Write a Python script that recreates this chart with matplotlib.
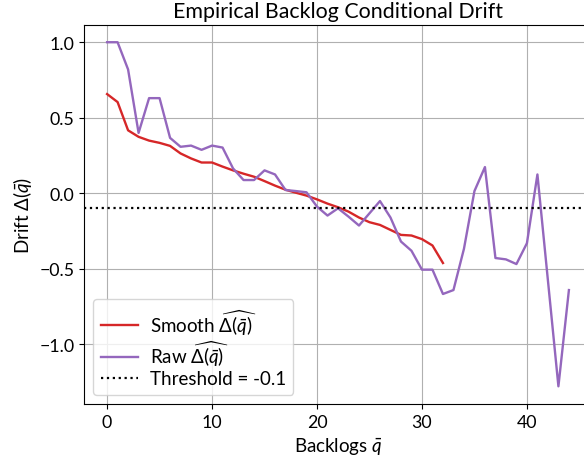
import matplotlib
matplotlib.use("Agg")
import matplotlib.pyplot as plt
import numpy as np

plt.rcParams['font.family'] = ['Lato', 'DejaVu Sans']
plt.rcParams['mathtext.fontset'] = 'custom'
plt.rcParams['mathtext.rm'] = 'Lato'
plt.rcParams['mathtext.it'] = 'Lato:italic'
plt.rcParams['mathtext.bf'] = 'Lato:bold'
plt.rcParams['font.size'] = 12.8

raw_x = list(range(45))
raw_y = [1.0, 1.0, 0.82, 0.40, 0.63, 0.63, 0.367, 0.308, 0.316, 0.288,
         0.316, 0.303, 0.165, 0.088, 0.088, 0.152, 0.125, 0.022, 0.015, 0.007,
         -0.088, -0.147, -0.099, -0.154, -0.213, -0.132, -0.051, -0.16, -0.319, -0.38,
         -0.505, -0.505, -0.666, -0.64, -0.367, 0.015, 0.174, -0.428, -0.437, -0.468,
         -0.33, 0.125, -0.576, -1.277, -0.64]

smooth_x = list(range(33))
smooth_y = [0.657, 0.604, 0.417, 0.374, 0.349, 0.334, 0.314, 0.264, 0.231, 0.204,
            0.204, 0.177, 0.152, 0.130, 0.110, 0.081, 0.051, 0.024, 0.004, -0.015,
            -0.040, -0.068, -0.092, -0.121, -0.16, -0.191, -0.209, -0.242, -0.275, -0.279,
            -0.303, -0.345, -0.461]

threshold = -0.1

fig = plt.figure(figsize=(5.84, 4.64), dpi=100)
ax = fig.add_axes([84/584, 1-405/464, 508/584, 379/464])

ax.plot(smooth_x, smooth_y, color='#d62728', lw=1.7, label=r'Smooth $\widehat{\Delta(\bar{q})}$')
ax.plot(raw_x, raw_y, color='#9467bd', lw=1.7, label=r'Raw $\widehat{\Delta(\bar{q})}$')
ax.axhline(threshold, color='black', ls=':', lw=1.6, label='Threshold = -0.1')

ax.set_xlim(-2.2, 46.2)
ax.set_ylim(-1.394, 1.114)
ax.set_xticks([0, 10, 20, 30, 40])
ax.set_yticks([-1.0, -0.5, 0.0, 0.5, 1.0])
ax.grid(True, color='#b0b0b0', lw=0.8)
ax.set_title('Empirical Backlog Conditional Drift')
ax.set_xlabel(r'Backlogs $\bar{q}$', fontsize=13.5)
ax.set_ylabel(r'Drift $\Delta(\bar{q})$', fontsize=13.5)
ax.legend(loc='lower left', fontsize=13.5, labelspacing=0.1, handletextpad=0.6)

fig.savefig('out.png', dpi=100)
